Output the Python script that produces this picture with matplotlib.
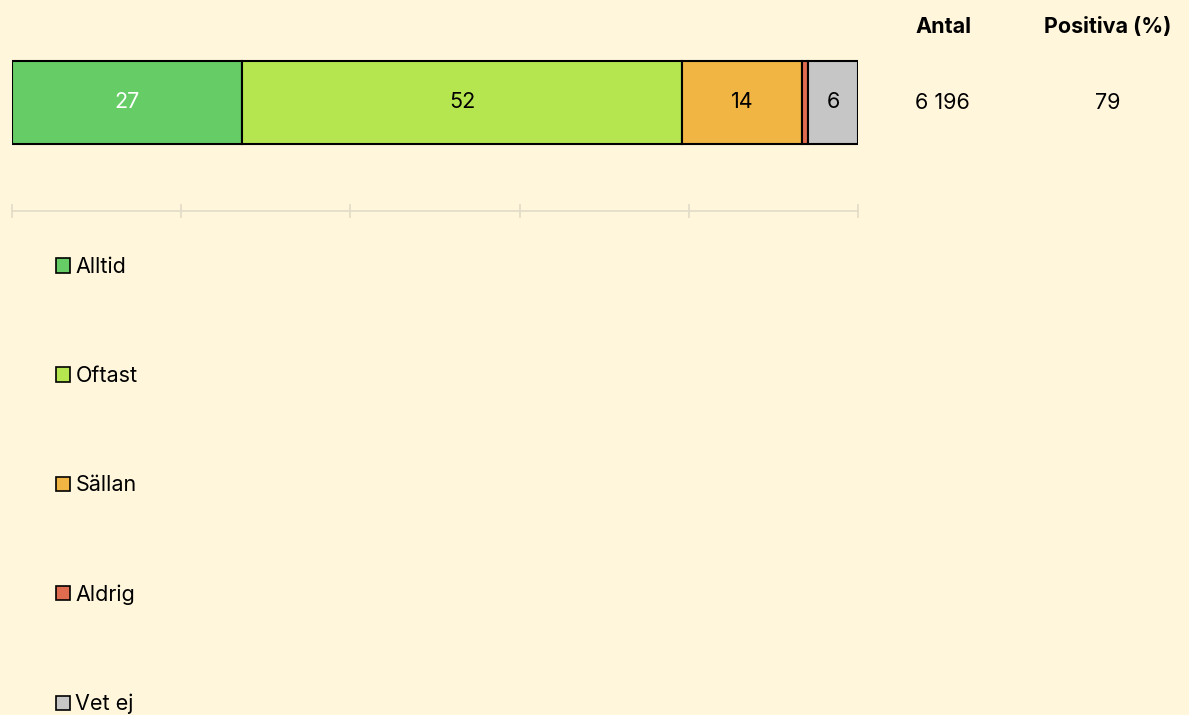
import matplotlib.pyplot as plt
from matplotlib.patches import Patch

plt.rcParams['font.family'] = ['Inter', 'DejaVu Sans']

# data
categories = ["Alltid", "Oftast", "Sällan", "Aldrig", "Vet ej"]
shares = [27.2, 52.0, 14.2, 0.7, 5.9]
colors = ["#66cc66", "#b5e650", "#f0b542", "#e06c50", "#c6c6c6"]
label_colors = ["white", "black", "black", "black", "black"]
antal = "6 196"
positiva = "79"
headers = ["Antal", "Positiva (%)"]

BG = "#fff6dc"
W, H = 1189, 715
FS = 15.5

fig = plt.figure(figsize=(W / 100, H / 100), dpi=100)
fig.patch.set_facecolor(BG)

# axes from x=12..858 px, bottom spine at y=211
ax = fig.add_axes([12 / W, 1 - 211 / H, 846 / W, 191 / H])
ax.set_facecolor(BG)
ax.set_xlim(0, 100)
ax.set_ylim(0, 1)

bar_y = (211 - 102.5) / 191
bar_h = 83 / 191
left = 0
handles = []
for cat, val, col, lc in zip(categories, shares, colors, label_colors):
    ax.barh(bar_y, val, left=left, height=bar_h, color=col,
            edgecolor="black", linewidth=1.5)
    if val >= 2:
        ax.text(left + val / 2, bar_y, "%d" % round(val), ha="center",
                va="center", fontsize=FS, color=lc)
    handles.append(Patch(facecolor=col, edgecolor="black", linewidth=1.2, label=cat))
    left += val

for s in ["top", "left", "right"]:
    ax.spines[s].set_visible(False)
ax.spines["bottom"].set_color("#e2dcc8")
ax.spines["bottom"].set_linewidth(1.2)
ax.set_xticks([0, 20, 40, 60, 80, 100])
ax.set_xticklabels([])
ax.tick_params(axis="x", direction="inout", length=10, color="#e2dcc8", width=1.2)
ax.set_yticks([])

# right side table
fig.text(943 / W, 1 - 27 / H, headers[0], ha="center", va="center",
         fontsize=FS, fontweight="bold")
fig.text(1108 / W, 1 - 27 / H, headers[1], ha="center", va="center",
         fontsize=FS, fontweight="bold")
fig.text(942 / W, 1 - 103 / H, antal, ha="center", va="center", fontsize=FS)
fig.text(1108 / W, 1 - 103 / H, positiva, ha="center", va="center", fontsize=FS)

leg = fig.legend(handles=handles, loc="upper left",
                 bbox_to_anchor=(56 / W, 1 - 257 / H), frameon=False,
                 fontsize=FS, labelspacing=4.14, handlelength=0.65,
                 handleheight=0.65, handletextpad=0.25, borderpad=0,
                 borderaxespad=0)

fig.savefig("out.png", dpi=100, facecolor=BG)
